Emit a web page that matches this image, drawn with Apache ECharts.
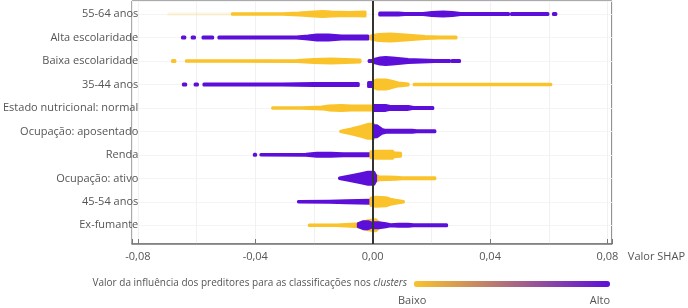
<!DOCTYPE html>
<html>
<head>
<meta charset="utf-8">
<script src="https://cdn.jsdelivr.net/npm/echarts@6/dist/echarts.min.js"></script>
<style>
  html, body { margin: 0; padding: 0; background: #fff; }
  #grafico { width: 688px; height: 308px; }
</style>
</head>
<body>
<div id="grafico"></div>
<script>
// categorias (de cima para baixo)
var categorias = ['55-64 anos', 'Alta escolaridade', 'Baixa escolaridade', '35-44 anos',
	'Estado nutricional: normal', 'Ocupação: aposentado', 'Renda', 'Ocupação: ativo',
	'45-54 anos', 'Ex-fumante'];

// cada trecho: [nivel do preditor (0 = baixo, 1 = alto), [[valor SHAP, densidade], ...]]
var idade5564 = [
	[0, [[-0.0695, 0.4], [-0.0478, 0.4]]],
	[0, [[-0.0478, 3], [-0.0307, 3.5], [-0.025, 5], [-0.020, 7], [-0.017, 8], [-0.014, 7], [-0.008, 6], [-0.0026, 7]]],
	[1, [[0.0024, 5], [0.0088, 5], [0.011, 4], [0.0172, 4], [0.0202, 6], [0.024, 7], [0.0272, 6], [0.030, 4], [0.0463, 4]]],
	[1, [[0.0473, 4], [0.0597, 4]]],
	[1, [[0.0616, 4], [0.0624, 4]]]
];
var altaEscolaridade = [
	[1, [[-0.0648, 4], [-0.0640, 4]]],
	[1, [[-0.0615, 4], [-0.0607, 4]]],
	[1, [[-0.0578, 4], [-0.0545, 4]]],
	[1, [[-0.0524, 4], [-0.026, 4], [-0.022, 6], [-0.019, 8], [-0.015, 8], [-0.0106, 6], [-0.0016, 6]]],
	[0, [[-0.0006, 6], [0.002, 9], [0.006, 10], [0.0111, 8], [0.0178, 5], [0.0228, 4], [0.0284, 4]]]
];
var baixaEscolaridade = [
	[0, [[-0.0682, 4], [-0.0674, 4]]],
	[0, [[-0.0635, 3.5], [-0.0491, 3.5], [-0.0257, 4], [-0.020, 6], [-0.014, 7], [-0.0093, 6], [-0.0043, 5]]],
	[1, [[-0.0012, 4], [-0.0004, 4]]],
	[1, [[0.0005, 6], [0.0025, 9], [0.0044, 10], [0.0068, 9], [0.0121, 6], [0.0212, 4], [0.0262, 4]]],
	[1, [[0.0270, 4], [0.0296, 4]]]
];
var idade3544 = [
	[1, [[-0.0645, 4], [-0.0637, 4]]],
	[1, [[-0.0605, 4], [-0.0597, 4]]],
	[1, [[-0.0575, 4], [-0.0508, 4], [-0.0307, 4], [-0.020, 5], [-0.0049, 5]]],
	[1, [[-0.0014, 7], [-0.0004, 7]]],
	[0, [[0.0003, 9], [0.0015, 12], [0.0045, 12], [0.0061, 10], [0.0088, 6], [0.0121, 4]]],
	[0, [[0.0141, 3.5], [0.0607, 3.5]]]
];
var nutricionalNormal = [
	[0, [[-0.0341, 3.5], [-0.024, 3.5], [-0.0173, 5], [-0.0150, 7], [-0.0106, 8], [-0.0073, 7], [-0.0002, 7]]],
	[1, [[0.0003, 8], [0.0044, 8], [0.006, 6], [0.0121, 6], [0.014, 4], [0.0205, 4]]]
];
var aposentado = [
	[0, [[-0.0109, 3], [-0.0073, 8], [-0.0039, 13], [-0.0016, 17], [0.0004, 17]]],
	[1, [[0.0006, 14], [0.0014, 14], [0.0031, 7], [0.0045, 5], [0.0135, 5], [0.0150, 4], [0.0212, 4]]]
];
var renda = [
	[1, [[-0.0403, 4], [-0.0399, 4]]],
	[1, [[-0.0381, 3.5], [-0.0227, 4], [-0.019, 6], [-0.0143, 6], [-0.010, 5], [-0.0009, 5]]],
	[0, [[-0.0006, 9], [0.0011, 10], [0.0045, 10], [0.0068, 10], [0.0071, 7], [0.0095, 6]]]
];
var ativo = [
	[0, [[-0.002, 8], [0.0008, 10], [0.0021, 6], [0.0078, 5], [0.010, 4], [0.0212, 4]]],
	[1, [[-0.0113, 3], [-0.0073, 8], [-0.0039, 12], [-0.0016, 15], [0.0004, 15], [0.001, 8]]]
];
var idade4554 = [
	[1, [[-0.0253, 3.5], [-0.0149, 4], [-0.0089, 5], [-0.0009, 6]]],
	[0, [[-0.0006, 10], [0.0011, 12], [0.0045, 11], [0.006, 8], [0.0078, 6], [0.0105, 3]]]
];
var exFumante = [
	[0, [[-0.0216, 3], [-0.0123, 3.5], [-0.0073, 5], [-0.0049, 6], [-0.0016, 12], [0.0011, 14], [0.0021, 8]]],
	[1, [[-0.0049, 6], [-0.0032, 10], [-0.0016, 10], [0.0001, 6]]],
	[1, [[0.0004, 8], [0.0021, 8], [0.0045, 6], [0.0061, 4], [0.0088, 5], [0.0121, 5], [0.0139, 4], [0.0252, 4]]]
];

var linhas = [idade5564, altaEscolaridade, baixaEscolaridade, idade3544, nutricionalNormal,
	aposentado, renda, ativo, idade4554, exFumante];

var amarelo = '#FAC32B';
var roxo = '#5C0FD9';
var corTexto = '#555';
var fonte = '"Open Sans", "Noto Sans", sans-serif';

// dados para a serie: [x inicial, linha, nivel, indice do trecho]
var dados = [];
linhas.forEach(function (trechos, linha) {
	trechos.forEach(function (t, k) {
		dados.push([t[1][0][0], linha, t[0], k]);
	});
});

function desenharTrecho(params, api) {
	var linha = api.value(1);
	var trecho = linhas[linha][api.value(3)];
	var pts = trecho[1];
	var topo = [], base = [];
	var maxD = 0;
	pts.forEach(function (p) {
		var c = api.coord([p[0], linha]);
		var meia = (Math.max(p[1], 3.5) - 3) / 2;
		topo.push([c[0], c[1] - meia]);
		base.unshift([c[0], c[1] + meia]);
		maxD = Math.max(maxD, p[1]);
	});
	var cor = api.visual('color');
	return {
		type: 'polygon',
		shape: { points: topo.concat(base) },
		style: {
			fill: cor,
			stroke: cor,
			lineWidth: 3,
			lineJoin: 'round',
			opacity: Math.min(1, maxD / 3)
		}
	};
}

function rotuloEixo(v) {
	var q = v / 0.04;
	if (Math.abs(q - Math.round(q)) > 1e-6) return '';
	return (Math.round(q) * 0.04).toFixed(2).replace('.', ',').replace('-0,00', '0,00');
}

var myChart = echarts.init(document.getElementById('grafico'));

var option = {
	animation: false,
	textStyle: { fontFamily: fonte },
	title: {
		text: '{a|Valor da influência dos preditores para as classificações nos }{b|clusters}',
		right: 281,
		top: 278,
		padding: 0,
		textStyle: {
			fontWeight: 'normal',
			rich: {
				a: { fontSize: 10, color: corTexto, fontFamily: fonte, fontWeight: 'normal' },
				b: { fontSize: 10, color: corTexto, fontFamily: fonte, fontWeight: 'normal', fontStyle: 'italic' }
			}
		}
	},
	grid: [
		{ left: 132, right: 68, top: 1, bottom: 64, show: true, borderColor: '#555', borderWidth: 1, backgroundColor: 'transparent' },
		{ left: 132, right: 68, top: 2.26, height: 234.8 }
	],
	xAxis: [
		{
			type: 'value', gridIndex: 0, min: -0.082, max: 0.0815, splitNumber: 8,
			axisLine: { show: false }, axisTick: { show: false }, axisLabel: { show: false },
			splitLine: { show: true, lineStyle: { color: '#f1f1f1', width: 1 } }
		},
		{
			type: 'value', gridIndex: 0, min: -0.082, max: 0.0815, minInterval: 0.04, maxInterval: 0.04,
			position: 'bottom',
			axisLine: { show: true, lineStyle: { color: '#777', width: 1.5 } },
			axisTick: { show: true, inside: true, length: 5, lineStyle: { color: '#777' } },
			splitLine: { show: false },
			axisLabel: { color: corTexto, fontSize: 11, margin: 7, formatter: rotuloEixo, showMinLabel: true, showMaxLabel: true },
			name: 'Valor SHAP',
			nameLocation: 'end',
			nameGap: 16,
			nameTextStyle: { color: corTexto, fontSize: 11, verticalAlign: 'top', padding: [7, 0, 0, 0] }
		},
		{ type: 'value', gridIndex: 1, show: false }
	],
	yAxis: [
		{
			type: 'value', gridIndex: 0, min: -0.554, max: 9.8, inverse: true, splitNumber: 10,
			axisLine: { show: false }, axisTick: { show: false }, axisLabel: { show: false },
			splitLine: { show: true, lineStyle: { color: '#f4f4f4', width: 1 } }
		},
		{
			type: 'category', gridIndex: 1, data: categorias, inverse: true,
			axisLine: { show: false }, axisTick: { show: false }, splitLine: { show: false },
			axisLabel: { color: corTexto, fontSize: 11, margin: 10 }
		}
	],
	visualMap: {
		type: 'continuous',
		seriesIndex: 0,
		dimension: 2,
		min: 0,
		max: 1,
		orient: 'horizontal',
		left: 414,
		top: 281,
		padding: 0,
		itemWidth: 6,
		itemHeight: 196,
		calculable: false,
		hoverLink: false,
		inRange: { color: [amarelo, roxo] }
	},
	graphic: [
		{ type: 'text', left: 398, top: 295, style: { text: 'Baixo', fill: corTexto, fontSize: 11, fontFamily: fonte } },
		{ type: 'text', right: 78, top: 295, style: { text: 'Alto', fill: corTexto, fontSize: 11, fontFamily: fonte } }
	],
	series: [
		{
			name: 'SHAP',
			type: 'custom',
			xAxisIndex: 0,
			yAxisIndex: 0,
			renderItem: desenharTrecho,
			encode: { x: 0, y: 1 },
			data: dados,
			markLine: {
				silent: true,
				symbol: ['none', 'none'],
				label: { show: false },
				lineStyle: { color: '#333', width: 2, type: 'solid' },
				data: [{ xAxis: 0 }]
			}
		}
	]
};

if (option && typeof option === "object") {
	myChart.setOption(option, true);
}
</script>
</body>
</html>
